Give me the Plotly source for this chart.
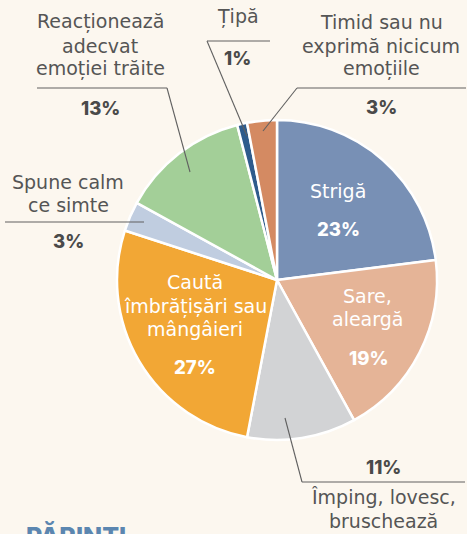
import plotly.graph_objects as go

W, H = 467, 534

categories = ["Strigă", "Sare, aleargă", "Împing, lovesc, bruschează",
              "Caută îmbrățișări sau mângâieri", "Spune calm ce simte",
              "Reacționează adecvat emoției trăite", "Țipă",
              "Timid sau nu exprimă nicicum emoțiile"]
values = [23, 19, 11, 27, 3, 13, 1, 3]
pct_labels = ["23%", "19%", "11%", "27%", "3%", "13%", "1%", "3%"]
colors = ["#7890b5", "#e5b497", "#d2d3d5", "#f2a735", "#c0cde0",
          "#a3cf98", "#2e5b8c", "#d48a62"]

BG = "#fcf7ef"
TXT = "#555555"
PCT = "#4a4a4a"
FONT = "DejaVu Sans"
BFONT = "Inter"

def px(x, y):
    return x / W, 1 - y / H

cx, cy, R = 277, 280, 160
dx0, dy1 = px(cx - R, cy + R)
dx1, dy0 = px(cx + R, cy - R)

fig = go.Figure(go.Pie(
    labels=categories, values=values, sort=False, direction="clockwise",
    rotation=0, textinfo="none", hoverinfo="label+percent",
    marker=dict(colors=colors, line=dict(color="white", width=2.5)),
    domain=dict(x=[dx0, dx1], y=[dy1, dy0]),
    showlegend=False,
))

annotations = []
shapes = []

def text(x, y, s, color=TXT, size=19, bold=False):
    ax, ay = px(x, y)
    if bold:
        font = dict(family=BFONT, size=18.5, color=color, weight=800)
    else:
        font = dict(family=FONT, size=size, color=color)
    annotations.append(dict(
        x=ax, y=ay, xref="paper", yref="paper", text=s,
        showarrow=False, xanchor="center", yanchor="middle", font=font))

def line(x0, y0, x1, y1):
    a0, b0 = px(x0, y0)
    a1, b1 = px(x1, y1)
    shapes.append(dict(type="line", xref="paper", yref="paper",
                       x0=a0, y0=b0, x1=a1, y1=b1,
                       line=dict(color="#606060", width=1.1)))

# inside labels
text(338, 191, "Strigă", color="white")
text(338, 229, pct_labels[0], color="white", bold=True)
text(367, 296, "Sare,", color="white")
text(367, 319, "aleargă", color="white")
text(368, 358, pct_labels[1], color="white", bold=True)
text(195, 282, "Caută", color="white")
text(195, 306, "îmbrățișări sau", color="white")
text(195, 329, "mângâieri", color="white")
text(195, 367, pct_labels[3], color="white", bold=True)

# outside labels
text(100, 22, "Reacționează")
text(100, 46, "adecvat")
text(100, 69, "emoției trăite")
text(100, 108, pct_labels[5], color=PCT, bold=True)
line(37, 88, 167, 88)
line(167, 88, 190, 172)

text(238, 17, "Țipă")
text(238, 58, pct_labels[6], color=PCT, bold=True)
line(207, 41, 270, 41)
line(207, 41, 247, 136)

text(381, 22, "Timid sau nu")
text(381, 46, "exprimă nicicum")
text(381, 69, "emoțiile")
text(381, 107, pct_labels[7], color=PCT, bold=True)
line(297, 88, 466, 88)
line(297, 88, 263, 131)

text(68, 182, "Spune calm")
text(68, 205, "ce simte")
text(68, 241, pct_labels[4], color=PCT, bold=True)
line(5, 222, 144, 222)

text(383, 467, pct_labels[2], color=PCT, bold=True)
text(383, 497, "Împing, lovesc,")
text(383, 521, "bruschează")
line(302, 482, 465, 482)
line(302, 482, 285, 418)

# cut-off heading
hx, hy = px(24, 519)
annotations.append(dict(x=hx, y=hy, xref="paper", yref="paper",
                        text="PĂRINȚI", showarrow=False,
                        xanchor="left", yanchor="top",
                        font=dict(family=BFONT, size=25, color="#5b86b0", weight=800)))

fig.update_layout(
    width=W, height=H, margin=dict(l=0, r=0, t=0, b=0),
    paper_bgcolor=BG, plot_bgcolor=BG,
    annotations=annotations, shapes=shapes,
)

fig.write_html("out.html", config={"displayModeBar": False},
               post_script="document.body.style.margin='0';document.body.style.overflow='hidden';document.body.style.background='" + BG + "';")
